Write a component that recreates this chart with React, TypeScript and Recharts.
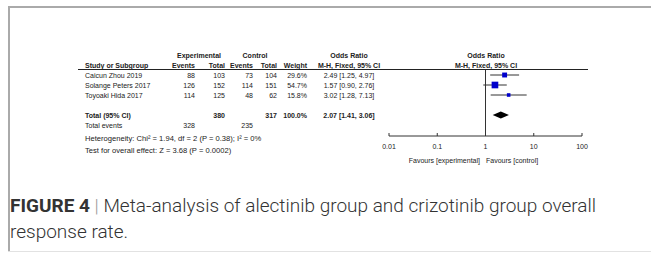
import React from 'react';
import { ComposedChart, Scatter, XAxis, YAxis, ReferenceLine, ReferenceArea } from 'recharts';

const studies = ['Caicun Zhou 2019', 'Solange Peters 2017', 'Toyoaki Hida 2017'];
const expEvents = [88, 126, 114];
const expTotal = [103, 152, 125];
const ctrlEvents = [73, 114, 48];
const ctrlTotal = [104, 151, 62];
const weights = [29.6, 54.7, 15.8];
const oddsRatio = [2.49, 1.57, 3.02];
const ciLow = [1.25, 0.9, 1.28];
const ciHigh = [4.97, 2.76, 7.13];

const totalLabel = 'Total (95% CI)';
const totalExp = 380;
const totalCtrl = 317;
const totalWeight = 100.0;
const totalOR = 2.07;
const totalLow = 1.41;
const totalHigh = 3.06;
const totalEventsExp = 328;
const totalEventsCtrl = 235;
const heterogeneityText = 'Heterogeneity: Chi\u00b2 = 1.94, df = 2 (P = 0.38); I\u00b2 = 0%';
const overallText = 'Test for overall effect: Z = 3.68 (P = 0.0002)';

const xTicks = [0.01, 0.1, 1, 10, 100];
const xTickLabels = ['0.01', '0.1', '1', '10', '100'];

const studyRows = [1, 2, 3];
const totalRow = 5;

const points = studies.map((s, i) => ({ x: oddsRatio[i], y: studyRows[i], w: weights[i] }));

const FONT = "'Liberation Sans', Arial, sans-serif";
const TXT = '#222';

const fmt2 = (v: number) => v.toFixed(2);
const ciStr = (o: number, l: number, h: number) => `${fmt2(o)} [${fmt2(l)}, ${fmt2(h)}]`;

const Square = (props: any) => {
  const { cx, cy, payload } = props;
  if (cx == null || cy == null) return null;
  const side = Math.sqrt(payload.w) * 0.9;
  return <rect x={cx - side / 2} y={cy - side / 2} width={side} height={side} fill="#0000cc" />;
};

const Diamond = (props: any) => {
  const { x, y, width, height } = props;
  const cx = x + width / 2;
  const cy = y + height / 2;
  const d = `M${x},${cy} L${cx},${y} L${x + width},${cy} L${cx},${y + height} Z`;
  return <path d={d} fill="#000" />;
};

const Tick = (props: any) => {
  const { x, y, payload, index } = props;
  return (
    <g>
      <line x1={x} x2={x} y1={y} y2={y - 3} stroke="#333" strokeWidth={1} />
      <text x={x} y={y + 12.5} textAnchor="middle" fontSize={7} fontFamily={FONT} fill={TXT}>
        {xTickLabels[index] ?? payload.value}
      </text>
    </g>
  );
};

const rowY = (r: number) => 65 + 10 * r;
const base = (r: number) => rowY(r) + 2.5;

export default function App() {
  const cols = { name: 85, ee: 195, et: 225, ce: 253, ct: 277, w: 307, ci: 349, plot: 486 };
  return (
    <div style={{ position: 'relative', width: 651, height: 253, background: '#fff', overflow: 'hidden' }}>
      <style>{`body{margin:0}`}</style>
      <div style={{ position: 'absolute', left: 8, top: 6, right: 0, height: 2, background: '#aaa' }} />
      <div style={{ position: 'absolute', left: 8, top: 6, width: 1.5, height: 245, background: '#aaa' }} />
      <div style={{ position: 'absolute', left: 8, top: 251, right: 0, height: 1, background: '#e2e2e2' }} />

      <svg width={651} height={253} style={{ position: 'absolute', left: 0, top: 0 }}>
        <g fontFamily={FONT} fontSize={7} fill={TXT}>
          <g fontWeight="bold">
            <text x={199} y={57.5} textAnchor="middle">Experimental</text>
            <text x={255} y={57.5} textAnchor="middle">Control</text>
            <text x={cols.ci} y={57.5} textAnchor="middle">Odds Ratio</text>
            <text x={cols.plot} y={57.5} textAnchor="middle">Odds Ratio</text>
            <text x={cols.name} y={67.5}>Study or Subgroup</text>
            <text x={cols.ee} y={67.5} textAnchor="end">Events</text>
            <text x={cols.et} y={67.5} textAnchor="end">Total</text>
            <text x={cols.ce} y={67.5} textAnchor="end">Events</text>
            <text x={cols.ct} y={67.5} textAnchor="end">Total</text>
            <text x={cols.w} y={67.5} textAnchor="end">Weight</text>
            <text x={cols.ci} y={67.5} textAnchor="middle">M-H, Fixed, 95% CI</text>
            <text x={cols.plot} y={67.5} textAnchor="middle">M-H, Fixed, 95% CI</text>
          </g>
          <line x1={78} x2={588} y1={69.5} y2={69.5} stroke="#222" strokeWidth={1} />
          {studies.map((s, i) => (
            <g key={s}>
              <text x={cols.name} y={base(studyRows[i])}>{s}</text>
              <text x={cols.ee} y={base(studyRows[i])} textAnchor="end">{expEvents[i]}</text>
              <text x={cols.et} y={base(studyRows[i])} textAnchor="end">{expTotal[i]}</text>
              <text x={cols.ce} y={base(studyRows[i])} textAnchor="end">{ctrlEvents[i]}</text>
              <text x={cols.ct} y={base(studyRows[i])} textAnchor="end">{ctrlTotal[i]}</text>
              <text x={cols.w} y={base(studyRows[i])} textAnchor="end">{weights[i].toFixed(1)}%</text>
              <text x={cols.ci} y={base(studyRows[i])} textAnchor="middle">{ciStr(oddsRatio[i], ciLow[i], ciHigh[i])}</text>
            </g>
          ))}
          <g fontWeight="bold">
            <text x={cols.name} y={base(totalRow)}>{totalLabel}</text>
            <text x={cols.et} y={base(totalRow)} textAnchor="end">{totalExp}</text>
            <text x={cols.ct} y={base(totalRow)} textAnchor="end">{totalCtrl}</text>
            <text x={cols.w} y={base(totalRow)} textAnchor="end">{totalWeight.toFixed(1)}%</text>
            <text x={cols.ci} y={base(totalRow)} textAnchor="middle">{ciStr(totalOR, totalLow, totalHigh)}</text>
          </g>
          <text x={cols.name} y={base(6)}>Total events</text>
          <text x={cols.ee} y={base(6)} textAnchor="end">{totalEventsExp}</text>
          <text x={cols.ce} y={base(6)} textAnchor="end">{totalEventsCtrl}</text>
          <text x={cols.name} y={141} fontSize={7.6}>{heterogeneityText}</text>
          <text x={cols.name} y={153} fontSize={7.6}>{overallText}</text>
          <text x={480} y={162.5} textAnchor="end">Favours [experimental]</text>
          <text x={486} y={162.5}>Favours [control]</text>
        </g>
        <g fontFamily="Roboto, 'Liberation Sans', sans-serif" fontSize={19} fill="#333">
          <text x={10} y={212}>
            <tspan fontWeight="bold">FIGURE 4</tspan>
            <tspan fontWeight={300} fill="#999"> | </tspan>
            <tspan fontWeight={300}>Meta-analysis of alectinib group and crizotinib group overall</tspan>
          </text>
          <text x={10} y={238} fontWeight={300}>response rate.</text>
        </g>
      </svg>

      <div style={{ position: 'absolute', left: 0, top: 0 }}>
        <ComposedChart width={651} height={253} margin={{ top: 70, right: 69, bottom: 97, left: 389 }} data={points}>
          <XAxis
            type="number"
            dataKey="x"
            scale="log"
            domain={[0.01, 100]}
            ticks={xTicks}
            allowDataOverflow
            tickLine={false}
            tickSize={0}
            tickMargin={0}
            height={20}
            tick={<Tick />}
            axisLine={{ stroke: '#333' }}
            interval={0}
          />
          <YAxis type="number" dataKey="y" domain={[0.5, 7.1]} reversed hide width={0} />
          <ReferenceLine x={1} stroke="#333" />
          {studies.map((s, i) => (
            <ReferenceLine
              key={s}
              segment={[{ x: ciLow[i], y: studyRows[i] }, { x: ciHigh[i], y: studyRows[i] }]}
              stroke="#333"
            />
          ))}
          <ReferenceArea
            x1={totalLow}
            x2={totalHigh}
            y1={totalRow - 0.35}
            y2={totalRow + 0.35}
            shape={<Diamond />}
          />
          <Scatter data={points} dataKey="y" shape={<Square />} isAnimationActive={false} />
        </ComposedChart>
      </div>
    </div>
  );
}
